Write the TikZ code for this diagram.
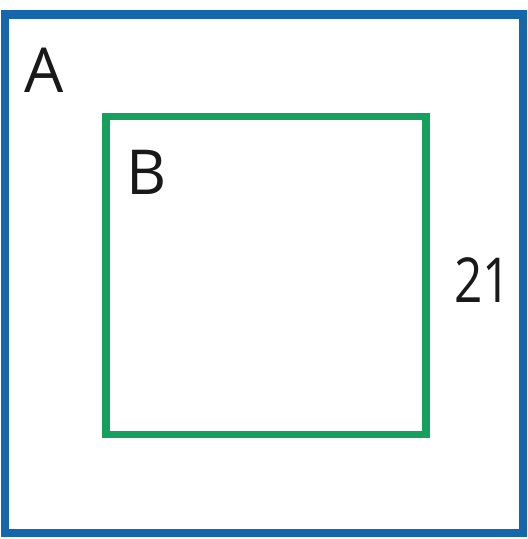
\documentclass[tikz,border=0pt]{standalone}
\usepackage{fontspec}
\setmainfont{Open Sans}
\definecolor{borderblue}{HTML}{1566AB}
\definecolor{boxgreen}{HTML}{16A05E}
\begin{document}
\begin{tikzpicture}[x=1pt,y=-1pt,
  lbl/.style={inner sep=0pt,anchor=base west,font=\fontsize{62}{62}\selectfont,text=black!90}]
\useasboundingbox (0,0) rectangle (528,539);
\fill[white] (0,0) rectangle (528,539);
\draw[borderblue,line width=8.5pt] (5,14.5) rectangle (523,533);
\draw[boxgreen,line width=7.5pt] (106,116.5) rectangle (426,434.5);
\node[lbl] (a) at (24,92) {A};
\node[lbl] (b) at (126,194) {B};
\node[lbl,xscale=0.8] (n) at (454,302) {21};
\end{tikzpicture}
\end{document}
